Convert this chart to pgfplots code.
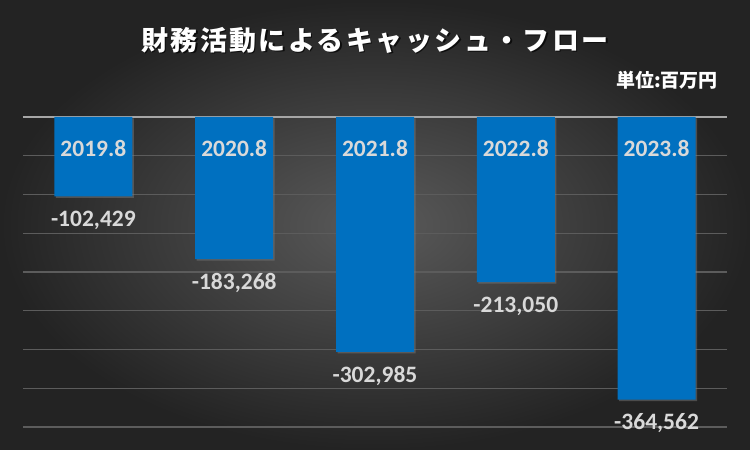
\documentclass[border=0pt]{standalone}
\usepackage{fontspec}
\setmainfont{Carlito}
\newfontfamily\cjk{Noto Sans CJK JP}
\usepackage{pgfplots}
\pgfplotsset{compat=1.18}
\usetikzlibrary{shadows}
\definecolor{barblue}{HTML}{0070C0}
\definecolor{lbl}{HTML}{D9D9D9}
\definecolor{gridc}{HTML}{5C5C5C}
\definecolor{zeroc}{HTML}{A6A6A6}
\definecolor{bgin}{HTML}{5A5A5A}
\definecolor{bgout}{HTML}{232323}
\begin{document}
\begin{tikzpicture}[x=1pt,y=1pt]
\shade[inner color=bgin, outer color=bgout] (0,0) rectangle (750,450);
\node[text=black, opacity=0.7, inner sep=0pt] at (376.5,408.5) {\cjk\bfseries\fontsize{27}{30}\selectfont\addfontfeatures{LetterSpace=9}財務活動によるキャッシュ・フロー};
\node[text=white, inner sep=0pt] at (375,410) {\cjk\bfseries\fontsize{27}{30}\selectfont\addfontfeatures{LetterSpace=9}財務活動によるキャッシュ・フロー};
\node[text=white, anchor=east, inner sep=0pt] at (718,370) {\cjk\bfseries\fontsize{19}{22}\selectfont 単位:百万円};
\begin{axis}[at={(23pt,23pt)}, anchor=south west, scale only axis,
  width=704pt, height=310pt,
  xmin=-0.5, xmax=4.5, ymin=-400000, ymax=0,
  axis line style={draw=none}, xtick=\empty,
  scaled y ticks=false,
  ytick={-400000,-350000,...,-50000}, yticklabels={}, tick style={draw=none},
  ymajorgrids, grid style={gridc, line width=1.2pt},
  extra y ticks={0}, extra y tick labels={},
  extra y tick style={grid style={zeroc, line width=1.8pt}},
  clip=false]
\addplot[ybar, bar width=78pt, fill=barblue, draw=none,
  drop shadow={shadow xshift=1.5pt, shadow yshift=-1.5pt, opacity=0.45}]
  coordinates {(0,-102429) (1,-183268) (2,-302985) (3,-213050) (4,-364562)};
\addplot[only marks, mark=none, nodes near coords, point meta=explicit symbolic,
  nodes near coords align=center,
  every node near coord/.append style={font=\bfseries\fontsize{23.5}{26}\selectfont, text=lbl, anchor=center, yshift=-24pt}]
  coordinates {(0,-102429)[-102,429] (1,-183268)[-183,268] (2,-302985)[-302,985] (3,-213050)[-213,050] (4,-364562)[-364,562]};
\addplot[only marks, mark=none, nodes near coords, point meta=explicit symbolic,
  nodes near coords align=center,
  every node near coord/.append style={font=\bfseries\fontsize{23.5}{26}\selectfont, text=lbl, anchor=center}]
  coordinates {(0,-40000)[2019.8] (1,-40000)[2020.8] (2,-40000)[2021.8] (3,-40000)[2022.8] (4,-40000)[2023.8]};
\end{axis}
\end{tikzpicture}
\end{document}
